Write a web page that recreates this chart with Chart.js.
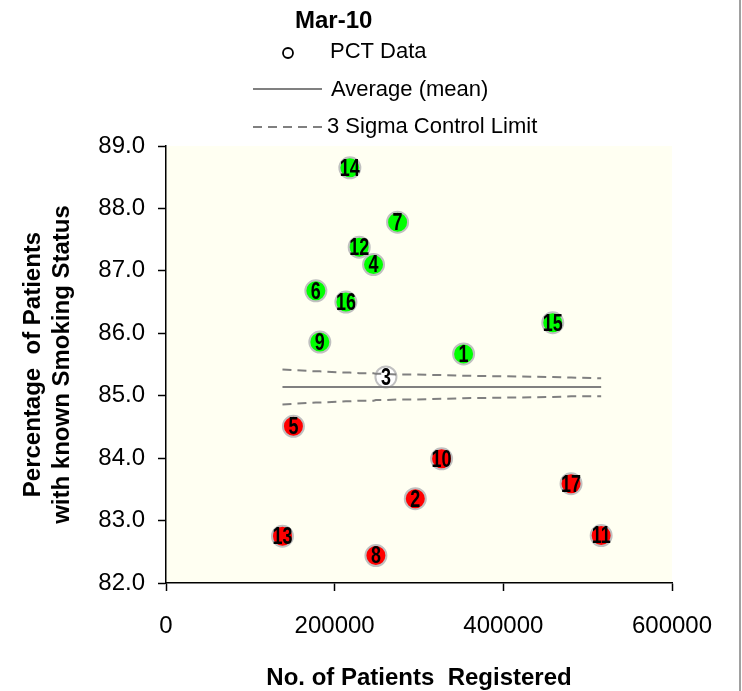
<!DOCTYPE html>
<html>
<head>
<meta charset="utf-8">
<script src="https://cdn.jsdelivr.net/npm/chart.js@4/dist/chart.umd.min.js"></script>
<style>
html, body { margin: 0; padding: 0; background: #ffffff; }
canvas { display: block; }
</style>
</head>
<body>
<canvas id="c" width="742" height="691"></canvas>
<script>
// ---- Data ----
const chartTitle = 'Mar-10';
const practiceLabels = ['1','2','3','4','5','6','7','8','9','10','11','12','13','14','15','16','17'];
const registered = [352900, 295600, 260800, 246100, 151100, 177700, 274600, 248900, 182400, 326800, 516000, 229100, 138100, 218000, 458600, 213300, 480300];
const pctSmoking = [85.67, 83.35, 85.30, 87.10, 84.51, 86.68, 87.78, 82.44, 85.86, 83.99, 82.76, 87.38, 82.75, 88.65, 86.17, 86.50, 83.59];
const pointStatus = ['above','below','within','above','below','above','above','below','above','below','below','above','below','above','above','above','below'];
const meanValue = 85.14;
const limitX = [138100, 151100, 177700, 182400, 213300, 218000, 229100, 246100, 248900, 260800, 274600, 295600, 326800, 352900, 458600, 480300, 516000];
const upperLimit = [85.42, 85.41, 85.39, 85.39, 85.37, 85.37, 85.36, 85.36, 85.35, 85.35, 85.34, 85.34, 85.33, 85.32, 85.30, 85.29, 85.28];
const lowerLimit = [84.86, 84.87, 84.89, 84.89, 84.91, 84.91, 84.92, 84.92, 84.93, 84.93, 84.94, 84.94, 84.95, 84.96, 84.98, 84.99, 84.99];
const xTicks = [0, 200000, 400000, 600000];
const yTicks = [82, 83, 84, 85, 86, 87, 88, 89];
const xAxisTitle = 'No. of Patients  Registered';
const yAxisTitle = ['Percentage  of Patients', 'with known Smoking Status'];
const legendLabels = ['PCT Data', 'Average (mean)', '3 Sigma Control Limit'];

// ---- Styles ----
const FONT = "'Liberation Sans', Arial, sans-serif";
const statusColor = { above: '#00FF00', below: '#FF0000', within: '#FFFFFF' };
const LINE_GREY = '#808080';

const bgPlugin = {
  id: 'plotBg',
  beforeDraw(chart) {
    const { ctx, chartArea: a } = chart;
    ctx.save();
    ctx.fillStyle = '#FFFFF2';
    ctx.fillRect(a.left, a.top, a.right - a.left, a.bottom - a.top);
    ctx.restore();
  }
};

const labelPlugin = {
  id: 'pointLabels',
  afterDatasetsDraw(chart) {
    const { ctx } = chart;
    const meta = chart.getDatasetMeta(3);
    ctx.save();
    ctx.fillStyle = '#000000';
    ctx.textAlign = 'center';
    ctx.textBaseline = 'middle';
    meta.data.forEach((el, i) => {
      ctx.save();
      ctx.translate(el.x, el.y + 1.5);
      ctx.scale(0.78, 1);
      ctx.font = "bold 23px " + FONT;
      ctx.fillText(practiceLabels[i], 0, 0);
      ctx.restore();
    });
    ctx.restore();
  }
};

const legendPlugin = {
  id: 'customLegend',
  afterDraw(chart) {
    const { ctx } = chart;
    ctx.save();
    ctx.fillStyle = '#000000';
    ctx.textBaseline = 'middle';
    ctx.textAlign = 'left';
    ctx.font = "bold 24px " + FONT;
    ctx.fillText(chartTitle, 295, 21);
    ctx.font = "22px " + FONT;
    // PCT data symbol
    ctx.beginPath();
    ctx.arc(288, 53, 5, 0, Math.PI * 2);
    ctx.lineWidth = 1.8;
    ctx.strokeStyle = '#000000';
    ctx.stroke();
    ctx.fillText(legendLabels[0], 330, 52);
    // mean
    ctx.strokeStyle = LINE_GREY;
    ctx.lineWidth = 2;
    ctx.beginPath();
    ctx.moveTo(253, 89); ctx.lineTo(322, 89);
    ctx.stroke();
    ctx.fillText(legendLabels[1], 331, 90);
    // limits
    ctx.setLineDash([9, 6]);
    ctx.beginPath();
    ctx.moveTo(253, 127); ctx.lineTo(322, 127);
    ctx.stroke();
    ctx.setLineDash([]);
    ctx.fillText(legendLabels[2], 327, 127);
    // chart frame edge on the right
    ctx.strokeStyle = '#A0A0A0';
    ctx.lineWidth = 2;
    ctx.beginPath();
    ctx.moveTo(740, 0); ctx.lineTo(740, 691);
    ctx.stroke();
    ctx.restore();
  }
};

new Chart(document.getElementById('c'), {
  type: 'scatter',
  data: {
    datasets: [
      {
        type: 'line', label: legendLabels[1], order: 0,
        data: [{ x: limitX[0], y: meanValue }, { x: limitX[limitX.length - 1], y: meanValue }],
        borderColor: LINE_GREY, borderWidth: 2, pointRadius: 0, fill: false, tension: 0
      },
      {
        type: 'line', label: legendLabels[2], order: 0,
        data: limitX.map((x, i) => ({ x, y: upperLimit[i] })),
        borderColor: LINE_GREY, borderWidth: 2, borderDash: [9, 6], pointRadius: 0, fill: false, tension: 0
      },
      {
        type: 'line', label: legendLabels[2] + ' (lower)', order: 0,
        data: limitX.map((x, i) => ({ x, y: lowerLimit[i] })),
        borderColor: LINE_GREY, borderWidth: 2, borderDash: [9, 6], pointRadius: 0, fill: false, tension: 0
      },
      {
        label: legendLabels[0], order: 1,
        data: registered.map((x, i) => ({ x, y: pctSmoking[i] })),
        pointRadius: 10.5,
        pointBackgroundColor: pointStatus.map(s => statusColor[s]),
        pointBorderColor: '#C0C0C0',
        pointBorderWidth: 2
      }
    ]
  },
  options: {
    responsive: false,
    animation: false,
    devicePixelRatio: 1,
    layout: { padding: { top: 146, right: 70, left: 0, bottom: 0 } },
    plugins: { legend: { display: false }, tooltip: { enabled: false } },
    scales: {
      x: {
        type: 'linear', min: 0, max: 600000,
        afterFit(scale) { scale.height = 108; },
        afterBuildTicks(scale) { scale.ticks = xTicks.map(v => ({ value: v })); },
        ticks: { color: '#000000', font: { family: FONT, size: 24 }, padding: 21, maxRotation: 0,
                 callback: v => String(v) },
        grid: { display: true, drawOnChartArea: false, drawTicks: true, tickLength: 8, tickColor: '#000000', tickWidth: 1.5 },
        border: { display: true, color: '#000000', width: 1.5 },
        title: { display: true, text: xAxisTitle, color: '#000000', font: { family: FONT, size: 24, weight: 'bold', lineHeight: 1.0 }, padding: { top: 0, bottom: 1 } }
      },
      y: {
        type: 'linear', min: 82, max: 89,
        afterFit(scale) { scale.width = 166; },
        afterBuildTicks(scale) { scale.ticks = yTicks.map(v => ({ value: v })); },
        ticks: { color: '#000000', font: { family: FONT, size: 24 }, padding: 13,
                 callback: v => Number(v).toFixed(1) },
        grid: { display: true, drawOnChartArea: false, drawTicks: true, tickLength: 8, tickColor: '#000000', tickWidth: 1.5 },
        border: { display: true, color: '#000000', width: 1.5 },
        title: { display: true, text: yAxisTitle, color: '#000000', font: { family: FONT, size: 24, weight: 'bold', lineHeight: 1.2 }, padding: { top: 19, bottom: 0 } }
      }
    }
  },
  plugins: [bgPlugin, labelPlugin, legendPlugin]
});
</script>
</body>
</html>
